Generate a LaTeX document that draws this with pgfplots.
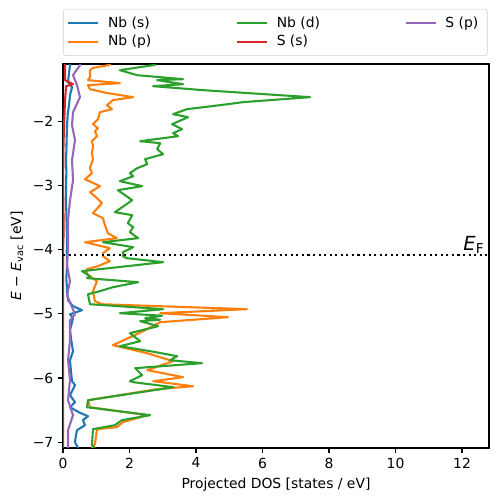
\documentclass[border=0pt]{standalone}
\usepackage{fontspec}
\setmainfont{DejaVu Sans}
\usepackage{pgfplots}
\pgfplotsset{compat=1.18}
\definecolor{tb}{HTML}{1F77B4}
\definecolor{to}{HTML}{FF7F0E}
\definecolor{tg}{HTML}{2CA02C}
\definecolor{tr}{HTML}{D62728}
\definecolor{tp}{HTML}{9467BD}
\begin{document}
\begin{tikzpicture}
\begin{axis}[
  name=ax,
  scale only axis,
  width=306.7pt, height=276.5pt,
  xmin=0, xmax=12.81, ymin=-7.09, ymax=-1.11,
  axis line style={line width=0.8pt},
  tick style={line width=0.8pt, black},
  tick align=outside, tick pos=left,
  major tick length=3.5pt,
  xtick={0,2,4,6,8,10,12},
  xticklabels={0,2,4,6,8,10,12},
  ytick={-7,-6,-5,-4,-3,-2},
  yticklabels={−7,−6,−5,−4,−3,−2},
  tick label style={font=\fontsize{10}{12}\selectfont},
  xlabel={Projected DOS [states / eV]},
  ylabel={\itshape E\upshape\ − \itshape E\upshape\textsubscript{vac} [eV]},
  label style={font=\fontsize{10}{12}\selectfont},
  every axis plot/.append style={line width=1.5pt, line join=round},
  legend columns=3,
  legend image code/.code={\draw[#1,line width=1.5pt] (0pt,0pt) -- (21.6pt,0pt);},
  legend style={at={(0,1)}, anchor=south west, yshift=5.8pt,
    draw=black!20, rounded corners=2pt, inner xsep=2.9pt, inner ysep=4.3pt,
    font=\fontsize{10}{12}\selectfont,
    nodes={inner sep=1.2pt, anchor=west},
    /tikz/every odd column/.append style={column sep=5pt},
    row sep=2pt},
  legend cell align=left,
]
% Nb (s)
\addplot[tb, forget plot] coordinates {
(0.21,-1.11) (0.21,-1.128) (0.18,-1.25) (0.15,-1.393) (0.27,-1.470) (0.21,-1.595) (0.18,-1.75) (0.14,-1.90) (0.12,-2.062)
(0.11,-2.25) (0.10,-2.45) (0.09,-2.607) (0.10,-2.80) (0.09,-3.0) (0.09,-3.231) (0.10,-3.45) (0.11,-3.65) (0.12,-3.854)
(0.11,-4.05) (0.12,-4.243) (0.10,-4.45) (0.12,-4.633) (0.15,-4.789) (0.30,-4.88) (0.57,-4.944) (0.21,-5.006) (0.30,-5.069)
(0.21,-5.255) (0.25,-5.42) (0.30,-5.582) (0.21,-5.723) (0.24,-5.90) (0.27,-6.050) (0.36,-6.112) (0.21,-6.268) (0.36,-6.377)
(0.21,-6.455) (0.50,-6.54) (0.75,-6.595) (0.60,-6.657) (0.66,-6.735) (0.42,-6.813) (0.38,-6.92) (0.36,-7.000) (0.45,-7.09)
};
% Nb (p)
\addplot[to, forget plot] coordinates {
(1.41,-1.11) (1.41,-1.123) (0.90,-1.17) (0.81,-1.206) (0.81,-1.315) (0.75,-1.361) (1.71,-1.408) (0.75,-1.439) (0.81,-1.502)
(1.30,-1.56) (2.11,-1.626) (1.50,-1.673) (1.32,-1.751) (1.47,-1.813) (1.11,-1.860) (1.05,-1.969) (0.90,-2.047) (1.05,-2.109)
(0.96,-2.156) (1.02,-2.234) (0.87,-2.312) (0.90,-2.390) (0.87,-2.499) (0.90,-2.592) (0.81,-2.732) (0.87,-2.810) (0.66,-2.904)
(1.11,-3.012) (0.87,-3.090) (0.81,-3.106) (1.02,-3.199) (1.17,-3.277) (0.90,-3.433) (1.20,-3.511) (1.26,-3.620) (1.35,-3.745)
(1.62,-3.822) (0.66,-3.885) (1.41,-3.978) (1.20,-4.056) (1.20,-4.103) (1.41,-4.181) (1.05,-4.258) (0.72,-4.305) (0.72,-4.383)
(1.02,-4.492) (0.90,-4.648) (0.96,-4.804) (1.17,-4.851) (5.53,-4.928) (2.92,-4.991) (4.96,-5.053) (2.92,-5.131) (2.41,-5.271)
(1.50,-5.489) (2.53,-5.614) (3.31,-5.738) (2.53,-5.878) (3.61,-5.987) (2.71,-6.050) (3.91,-6.128) (2.83,-6.174) (0.75,-6.346)
(0.81,-6.455) (2.53,-6.579) (1.80,-6.688) (1.62,-6.766) (1.02,-6.797) (0.96,-7.031) (0.87,-7.09)
};
% Nb (d)
\addplot[tg, forget plot] coordinates {
(2.77,-1.11) (2.77,-1.123) (1.71,-1.206) (2.23,-1.284) (3.61,-1.346) (2.83,-1.361) (3.61,-1.424) (2.71,-1.455) (4.21,-1.517)
(7.43,-1.626) (5.41,-1.704) (4.72,-1.751) (3.73,-1.813) (3.31,-1.891) (3.76,-1.938) (3.28,-2.047) (3.58,-2.125) (3.31,-2.187)
(3.46,-2.234) (2.32,-2.312) (2.92,-2.343) (2.83,-2.436) (3.01,-2.514) (2.47,-2.592) (2.53,-2.670) (2.23,-2.732) (2.01,-2.810)
(2.11,-2.857) (1.71,-2.935) (2.38,-3.012) (1.65,-3.075) (2.08,-3.231) (1.56,-3.418) (2.08,-3.464) (1.95,-3.589) (2.11,-3.651)
(2.01,-3.729) (2.26,-3.822) (1.20,-3.885) (2.11,-3.963) (1.80,-4.040) (1.80,-4.103) (1.92,-4.134) (3.01,-4.196) (0.57,-4.336)
(0.81,-4.414) (0.72,-4.445) (2.26,-4.508) (1.50,-4.586) (1.11,-4.648) (0.75,-4.695) (0.81,-4.851) (3.01,-4.928) (1.71,-4.991)
(2.98,-5.030) (2.47,-5.069) (2.92,-5.092) (2.32,-5.115) (2.86,-5.193) (2.01,-5.302) (2.32,-5.427) (1.71,-5.505) (2.62,-5.582)
(3.43,-5.660) (3.22,-5.723) (4.18,-5.769) (2.17,-5.847) (2.38,-5.956) (2.01,-6.050) (2.11,-6.065) (3.31,-6.143) (3.13,-6.159)
(0.75,-6.346) (0.72,-6.455) (2.62,-6.579) (1.77,-6.657) (1.56,-6.735) (0.90,-6.797) (0.87,-7.046) (0.96,-7.09)
};
% S (s)
\addplot[tr, forget plot] coordinates {
(0.06,-1.11) (0.06,-1.128) (0.06,-1.361) (0.30,-1.424) (0.09,-1.455) (0.06,-1.673) (0.03,-2.062) (0.01,-2.45) (0.0,-3.0)
(0.02,-3.70) (0.0,-4.0) (0.0,-5.0) (0.0,-6.0) (0.0,-7.09)
};
% S (p)
\addplot[tp, forget plot] coordinates {
(0.51,-1.11) (0.51,-1.128) (0.30,-1.283) (0.42,-1.439) (0.51,-1.626) (0.30,-1.860) (0.27,-2.062) (0.36,-2.296) (0.27,-2.607)
(0.30,-2.919) (0.21,-3.231) (0.15,-3.542) (0.15,-4.009) (0.12,-4.243) (0.21,-4.492) (0.12,-4.711) (0.36,-5.006) (0.21,-5.100)
(0.21,-5.411) (0.15,-5.723) (0.21,-6.034) (0.15,-6.346) (0.30,-6.579) (0.15,-6.813) (0.15,-7.09)
};
% Fermi level
\addplot[black, line width=1.5pt, dash pattern=on 1.5pt off 2.5pt, forget plot] coordinates {(0,-4.09) (12.81,-4.09)};
\node[anchor=south east, inner sep=1pt, font=\fontsize{14}{16}\selectfont] at (axis cs:12.72,-4.09) {\itshape E\upshape\textsubscript{F}};
\addlegendimage{tb}\addlegendentry{\makebox[91pt][l]{Nb (s)}}
\addlegendimage{tg}\addlegendentry{\makebox[91pt][l]{Nb (d)}}
\addlegendimage{tp}\addlegendentry{\makebox[26pt][l]{S (p)}}
\addlegendimage{to}\addlegendentry{\makebox[91pt][l]{Nb (p)}}
\addlegendimage{tr}\addlegendentry{\makebox[91pt][l]{S (s)}}
\end{axis}
\pgfresetboundingbox
\useasboundingbox ([xshift=-45.4pt,yshift=-38.9pt]ax.south west) rectangle ([xshift=6.5pt,yshift=46.1pt]ax.north east);
\end{tikzpicture}
\end{document}
